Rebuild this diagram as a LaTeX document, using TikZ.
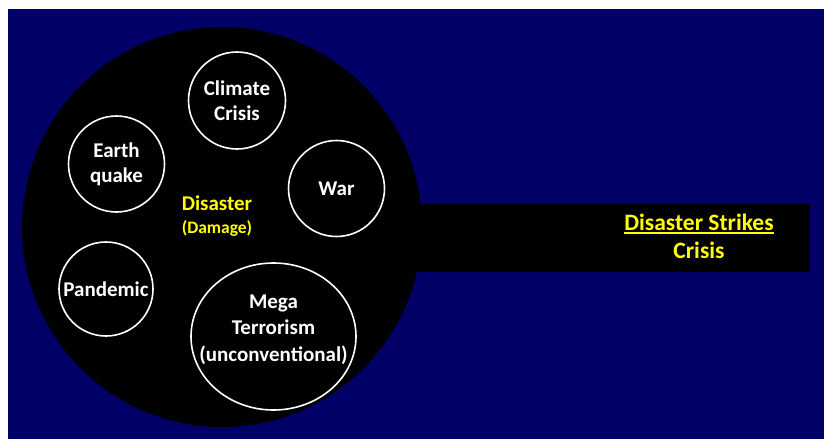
\documentclass[tikz,border=0pt]{standalone}
\usepackage{fontspec}
\setmainfont{Carlito}
\usetikzlibrary{shapes.geometric}
\definecolor{deepnavy}{HTML}{000066}
\definecolor{hazard}{HTML}{FFFF00}
\newcommand{\thickul}[1]{\setbox0\hbox{#1}\rlap{\raisebox{-4.2pt}{\rule{\wd0}{2pt}}}\box0}
\tikzset{
  event/.style={circle, draw=white, line width=1.6pt, fill=black, text=white,
    align=center, inner sep=0pt, font=\bfseries\fontsize{21}{25}\selectfont},
  eventtext/.style={text=white, align=center, inner sep=0pt,
    font=\bfseries\fontsize{21}{26.5}\selectfont},
  tag/.style={text=hazard, align=center, inner sep=0pt, font=\bfseries}
}
\begin{document}
\begin{tikzpicture}[x=1pt, y=-1pt]
  % page and backdrop
  \fill[white] (0,0) rectangle (824,439);
  \useasboundingbox (0,0) rectangle (824,439);
  \fill[deepnavy] (8,9) rectangle (824,439);
  % the bar and the disk of disasters
  \fill[black] (400,204) rectangle (810,272);
  \fill[black] (222,227) circle[radius=200];
  % the individual disasters
  \node[event, minimum size=97pt] (climate) at (237,100.5) {Climate\\Crisis};
  \node[event, minimum size=96pt] (quake) at (116.5,164) {Earth\\quake};
  \node[event, minimum size=96pt] (war) at (336.5,188.5) {War};
  \node[event, minimum size=94pt] (pandemic) at (106,289) {Pandemic};
  \node[event, ellipse, minimum width=165pt, minimum height=147pt] (terror) at (273.5,336.5) {};
  \node[eventtext] (terrortext) at ([yshift=7pt]terror.center) {Mega\\Terrorism\\(unconventional)};
  % central label
  \node[tag, font=\bfseries\fontsize{21}{25}\selectfont] (disaster) at (217,203) {Disaster};
  \node[tag, font=\bfseries\fontsize{17.5}{20}\selectfont] (damage) at (217,228) {(Damage)};
  % label on the bar
  \node[tag, font=\bfseries\fontsize{23.5}{28}\selectfont] (strikes) at (699,236)
    {\thickul{Disaster Strikes}\\Crisis};
\end{tikzpicture}
\end{document}
